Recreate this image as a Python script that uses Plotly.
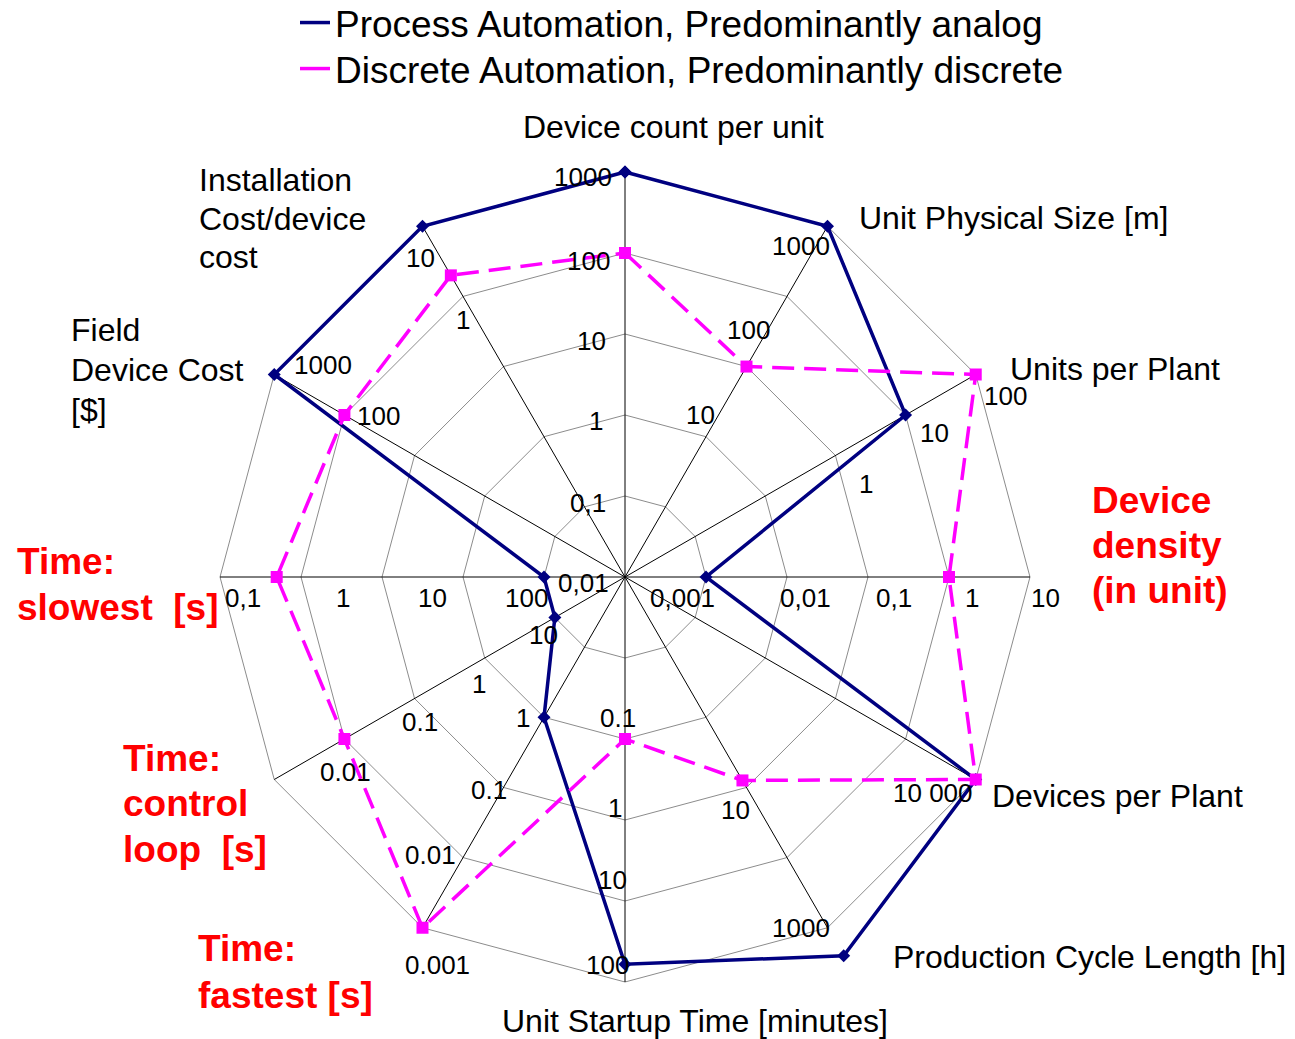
import plotly.graph_objects as go

W, H = 1295, 1039

# spokes, clockwise from the top
categories = [
    "Device count per unit",
    "Unit Physical Size [m]",
    "Units per Plant",
    "Device density (in unit)",
    "Devices per Plant",
    "Production Cycle Length [h]",
    "Unit Startup Time [minutes]",
    "Time: fastest [s]",
    "Time: control loop [s]",
    "Time: slowest [s]",
    "Field Device Cost [$]",
    "Installation Cost/device cost",
]

# values expressed in rings (one ring = one decade on that spoke)
process_levels = [5, 5, 4, 1, 5, 5.4, 4.78, 2, 1, 1, 5, 5]
discrete_levels = [4, 3, 5, 4, 5, 2.9, 2, 5, 4, 4.3, 4, 4.3]
rings = [1, 2, 3, 4, 5]

series_names = [
    "Process Automation, Predominantly analog",
    "Discrete Automation, Predominantly discrete",
]

# titles shown around the chart, one entry per line
category_titles = [
    ["Device count per unit"],
    ["Unit Physical Size [m]"],
    ["Units per Plant"],
    ["Device", "density", "(in unit)"],
    ["Devices per Plant"],
    ["Production Cycle Length [h]"],
    ["Unit Startup Time [minutes]"],
    ["Time:", "fastest [s]"],
    ["Time:", "control", "loop \u00a0[s]"],
    ["Time:", "slowest \u00a0[s]"],
    ["Field", "Device Cost", "[$]"],
    ["Installation", "Cost/device", "cost"],
]
red_titles = {3, 7, 8, 9}

# decade labels written along each spoke
tick_texts = [
    "1000", "100", "10", "1", "0,1", "0,01",
    "1000", "100", "10",
    "1", "10", "100",
    "0,001", "0,01", "0,1", "1", "10",
    "10 000",
    "10", "1000",
    "0.1", "1", "10", "100",
    "1", "0.1", "0.01", "0.001",
    "10", "1", "0.1", "0.01",
    "100", "10", "1", "0,1",
    "100", "1000",
    "1", "10",
]

# placement of text (pixel positions on the page)
tick_pos = [
    (583, 177), (588, 261), (591, 341), (596, 421), (588, 503), (583, 583),
    (801, 246), (748, 330), (700, 415),
    (866, 484), (934, 433), (1005, 396),
    (682, 598), (806, 598), (894, 598), (972, 598), (1045, 598),
    (933, 793),
    (736, 810), (801, 928),
    (618, 718), (615, 808), (612, 880), (607, 965),
    (523, 718), (489, 790), (430, 855), (437, 965),
    (543, 635), (479, 684), (420, 722), (345, 772),
    (526, 598), (432, 598), (343, 598), (243, 598),
    (378, 416), (323, 365),
    (463, 320), (420, 258),
]
# (x, y of first line, line step, anchor)
title_pos = [
    (673, 127, 0, "center"),
    (857, 218, 0, "left"),
    (1008, 369, 0, "left"),
    (1090, 500, 45, "left"),
    (990, 796, 0, "left"),
    (891, 957, 0, "left"),
    (500, 1021, 0, "left"),
    (196, 948, 47, "left"),
    (121, 758, 45.5, "left"),
    (15, 561, 46, "left"),
    (69, 330, 40, "left"),
    (197, 180, 38.5, "left"),
]
# top edge (page pixels) of each legend row
legend_tops = [-8, 38]

NAVY = "#000080"
MAGENTA = "#FF00FF"
FONT = "Liberation Sans, Arial, sans-serif"
CENTER = (625, 577)
RING_PX = 81  # pixels per ring
R_MAX = 5.5   # a little room beyond the outer ring


def paper(x, y):
    return x / W, 1 - y / H


half = RING_PX * R_MAX
dom_x = [(CENTER[0] - half) / W, (CENTER[0] + half) / W]
dom_y = [1 - (CENTER[1] + half) / H, 1 - (CENTER[1] - half) / H]

fig = go.Figure()

# spokes up to the outer ring
spoke_r, spoke_theta = [], []
for cat in categories:
    spoke_r += [0, rings[-1], None]
    spoke_theta += [cat, cat, None]
fig.add_trace(
    go.Scatterpolar(
        r=spoke_r, theta=spoke_theta, mode="lines",
        line=dict(color="black", width=1), hoverinfo="skip", showlegend=False,
    )
)

fig.add_trace(
    go.Scatterpolar(
        r=process_levels + process_levels[:1],
        theta=categories + categories[:1],
        mode="lines+markers",
        line=dict(color=NAVY, width=3.5),
        marker=dict(symbol="diamond", size=10, color=NAVY),
        cliponaxis=False,
        showlegend=False,
        name=series_names[0],
    )
)
fig.add_trace(
    go.Scatterpolar(
        r=discrete_levels + discrete_levels[:1],
        theta=categories + categories[:1],
        mode="lines+markers",
        line=dict(color=MAGENTA, width=3.5, dash="22px,10px"),
        marker=dict(symbol="square", size=12, color=MAGENTA),
        cliponaxis=False,
        showlegend=False,
        name=series_names[1],
    )
)
# legend entries show only the line, one legend per row
for name, color, leg in zip(series_names, [NAVY, MAGENTA], ["legend", "legend2"]):
    fig.add_trace(
        go.Scatterpolar(
            r=[None], theta=[None], mode="lines", name=name, legend=leg,
            line=dict(color=color, width=3.5),
        )
    )

annotations = []
for text, (x, y) in zip(tick_texts, tick_pos):
    px, py = paper(x, y)
    annotations.append(
        dict(x=px, y=py, xref="paper", yref="paper", text=text, showarrow=False,
             xanchor="center", yanchor="middle", font=dict(size=26, color="black"))
    )
for i, (lines, (x, y, step, anchor)) in enumerate(zip(category_titles, title_pos)):
    red = i in red_titles
    for k, line in enumerate(lines):
        px, py = paper(x, y + k * step)
        annotations.append(
            dict(x=px, y=py, xref="paper", yref="paper",
                 text=f"<b>{line}</b>" if red else line, showarrow=False,
                 xanchor=anchor, yanchor="middle",
                 font=dict(size=37 if red else 32, color="#FF0000" if red else "black"))
        )

legend_style = dict(
    x=295 / W, xanchor="left", yanchor="top", font=dict(size=37),
    itemwidth=30, bgcolor="rgba(0,0,0,0)",
)

fig.update_layout(
    width=W,
    height=H,
    margin=dict(l=0, r=0, t=0, b=0, autoexpand=False),
    paper_bgcolor="white",
    font=dict(family=FONT, color="black"),
    polar=dict(
        domain=dict(x=dom_x, y=dom_y),
        gridshape="linear",
        bgcolor="white",
        radialaxis=dict(
            range=[0, R_MAX], tickvals=rings, showticklabels=False, ticks="",
            showline=False, gridcolor="#8c8c8c", gridwidth=1,
        ),
        angularaxis=dict(
            rotation=90, direction="clockwise", showticklabels=False, ticks="",
            showgrid=False, showline=False,
        ),
    ),
    legend=dict(y=1 - legend_tops[0] / H, **legend_style),
    legend2=dict(y=1 - legend_tops[1] / H, **legend_style),
    annotations=annotations,
)

fig.write_html(
    "out.html",
    config={"displayModeBar": False},
    post_script="document.body.style.margin='0px';",
)
